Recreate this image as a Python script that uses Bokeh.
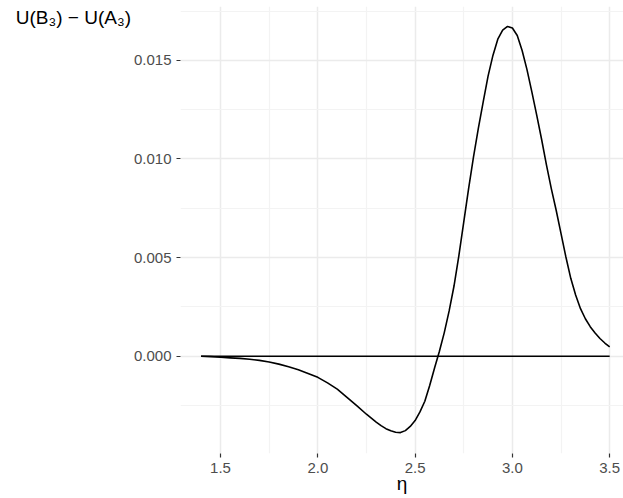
from bokeh.plotting import figure
from bokeh.models import Range1d, FixedTicker, Label, NumeralTickFormatter
from bokeh.embed import file_html
from bokeh.resources import INLINE

# eta values and U(B3) - U(A3) differences
eta = [1.40, 1.45, 1.50, 1.55, 1.60, 1.65, 1.70, 1.75, 1.80, 1.85, 1.90, 1.95,
       2.00, 2.05, 2.10, 2.15, 2.20, 2.25, 2.275, 2.30, 2.325, 2.35, 2.375, 2.40,
       2.425, 2.45, 2.475, 2.50, 2.525, 2.55, 2.575, 2.60, 2.625, 2.65, 2.675,
       2.70, 2.725, 2.75, 2.775, 2.80, 2.825, 2.85, 2.875, 2.90, 2.925, 2.95,
       2.975, 3.00, 3.025, 3.05, 3.075, 3.10, 3.125, 3.15, 3.175, 3.20, 3.225,
       3.25, 3.275, 3.30, 3.325, 3.35, 3.375, 3.40, 3.425, 3.45, 3.475, 3.50]
diff = [0.0, -0.00002, -0.00005, -0.00008, -0.00011, -0.00015, -0.00021, -0.00029,
        -0.00040, -0.00053, -0.00068, -0.00087, -0.00107, -0.00135, -0.00167,
        -0.00208, -0.00250, -0.00294, -0.00314, -0.00334, -0.00352, -0.00367,
        -0.00378, -0.00385, -0.00387, -0.00377, -0.00356, -0.00326, -0.00282,
        -0.00228, -0.00148, -0.00060, 0.00025, 0.00120, 0.00230, 0.00356,
        0.00510, 0.00680, 0.00850, 0.01010, 0.01155, 0.01290, 0.01420, 0.01525,
        0.01607, 0.01653, 0.01672, 0.01664, 0.01626, 0.01550, 0.01453, 0.01340,
        0.01222, 0.01100, 0.00970, 0.00850, 0.00740, 0.00622, 0.00503, 0.00395,
        0.00310, 0.00241, 0.00190, 0.00150, 0.00118, 0.00090, 0.00067, 0.00047]
zero = [0.0 for _ in eta]

x_major = [1.5, 2.0, 2.5, 3.0, 3.5]
x_minor = [1.75, 2.25, 2.75, 3.25]
y_major = [0.000, 0.005, 0.010, 0.015]
y_minor = [-0.0025, 0.0025, 0.0075, 0.0125, 0.0175]
y_title = "U(B₃) − U(A₃)"

p = figure(width=623, height=498, output_backend="svg", toolbar_location=None,
           x_range=Range1d(1.2944, 3.571), y_range=Range1d(-0.00493, 0.01773),
           min_border_left=180, min_border_right=0, min_border_top=6,
           min_border_bottom=45)
p.background_fill_color = "white"
p.border_fill_color = "white"
p.outline_line_color = None

p.xaxis.ticker = FixedTicker(ticks=x_major, minor_ticks=x_minor)
p.yaxis.ticker = FixedTicker(ticks=y_major, minor_ticks=y_minor)
p.xaxis.formatter = NumeralTickFormatter(format="0.0")
p.yaxis.formatter = NumeralTickFormatter(format="0.000")

for ax in (p.xaxis, p.yaxis):
    ax.axis_line_color = None
    ax.major_tick_in = 0
    ax.major_tick_out = 4
    ax.major_tick_line_color = "#333333"
    ax.major_tick_line_width = 1.2
    ax.minor_tick_line_color = None
    ax.major_label_text_font = "Liberation Sans"
    ax.major_label_text_font_size = "15px"
    ax.major_label_text_color = "#4d4d4d"
p.yaxis.major_label_standoff = 5
p.xaxis.major_label_standoff = 5

p.xaxis.axis_label = "η"
p.xaxis.axis_label_text_font = "Liberation Sans"
p.xaxis.axis_label_text_font_style = "normal"
p.xaxis.axis_label_text_font_size = "19px"
p.xaxis.axis_label_text_color = "black"
p.xaxis.axis_label_standoff = -3

used_axis_label = False
try:
    yax = p.yaxis[0]
    yax.axis_label_orientation = "horizontal"
    yax.axis_label_align = "end"
    yax.axis_label = "\n" + y_title
    yax.axis_label_text_font = "Liberation Sans"
    yax.axis_label_text_font_style = "normal"
    yax.axis_label_text_font_size = "19px"
    yax.axis_label_text_color = "black"
    yax.axis_label_text_line_height = 1.0
    yax.axis_label_standoff = 0
    used_axis_label = True
except Exception:
    p.yaxis.axis_label = None

if not used_axis_label:
    p.add_layout(Label(x=-172, y=435, x_units="screen", y_units="screen",
                       text=y_title, text_font="Liberation Sans",
                       text_font_size="19px", text_color="black",
                       text_baseline="top", text_align="left"))

for g in (p.xgrid, p.ygrid):
    g.grid_line_color = "#ebebeb"
    g.grid_line_width = 1.5
    g.minor_grid_line_color = "#f3f3f3"
    g.minor_grid_line_width = 1.2

p.line(eta, zero, line_color="black", line_width=1.6)
p.line(eta, diff, line_color="black", line_width=1.6)

open("out.html", "w").write(file_html(p, INLINE))
